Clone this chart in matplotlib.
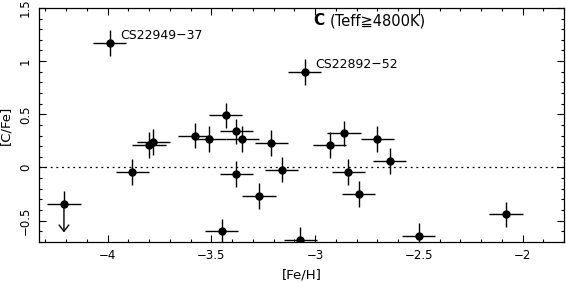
import numpy as np
import matplotlib.pyplot as plt
from matplotlib.ticker import MultipleLocator, FuncFormatter

plt.rcParams['font.family'] = ['DejaVu Sans']

# measured stars
feh = [-3.99, -3.05, -3.88, -3.80, -3.78, -3.45, -3.38, -3.27, -3.21, -3.16,
       -3.58, -3.51, -3.43, -3.38, -3.35, -2.86, -2.70, -2.93, -2.64, -2.84,
       -2.79, -3.07, -2.50, -2.08]
cfe = [1.17, 0.90, -0.04, 0.21, 0.24, -0.60, -0.06, -0.27, 0.23, -0.02,
       0.30, 0.27, 0.49, 0.34, 0.27, 0.32, 0.27, 0.21, 0.06, -0.04,
       -0.25, -0.68, -0.64, -0.44]
xerr = 0.08
yerr = 0.12

# upper limit star
lim_feh = -4.21
lim_cfe = -0.34
lim_arrow = -0.61

names = ['CS22949-37', 'CS22892-52']
name_x = [-3.94, -3.0]
name_y = [1.24, 0.97]

fig = plt.figure(figsize=(5.66, 2.83), dpi=100)
ax = fig.add_axes([0.069, 0.145, 0.9275, 0.827])

ax.axhline(0, color='black', ls=(0, (1.5, 3)), lw=0.9)
ax.errorbar(feh, cfe, xerr=xerr, yerr=yerr, fmt='o', color='black', ms=5,
            elinewidth=1.0, capsize=0)
ax.errorbar([lim_feh], [lim_cfe], xerr=xerr, yerr=[[0], [yerr]], fmt='o',
            color='black', ms=5, elinewidth=1.0, capsize=0)
ax.annotate('', xy=(lim_feh, lim_arrow), xytext=(lim_feh, lim_cfe),
            arrowprops=dict(arrowstyle='->,head_length=0.45,head_width=0.35',
                            color='black', lw=1.0, shrinkA=0, shrinkB=0))

for n, x, y in zip(names, name_x, name_y):
    ax.text(x, y, n.replace('-', '\u2212'), fontsize=9, va='center', ha='left')

ax.text(-3.01, 1.38, 'C', fontsize=11, fontweight='bold', va='center', ha='left')
ax.text(-2.93, 1.38, '(Teff\u22674800K)', fontsize=10.5, va='center', ha='left')

ax.set_xlim(-4.33, -1.8)
ax.set_ylim(-0.7, 1.5)
fmt = FuncFormatter(lambda v, p: ('%g' % round(v, 2)).replace('-', '\u2212'))
ax.xaxis.set_major_locator(MultipleLocator(0.5))
ax.xaxis.set_minor_locator(MultipleLocator(0.1))
ax.yaxis.set_major_locator(MultipleLocator(0.5))
ax.yaxis.set_minor_locator(MultipleLocator(0.1))
ax.xaxis.set_major_formatter(fmt)
ax.yaxis.set_major_formatter(fmt)
ax.tick_params(which='both', direction='in', top=True, right=True, labelsize=8.5)
ax.tick_params(which='major', length=5, width=0.8, pad=5)
ax.tick_params(which='minor', length=2.5, width=0.8)
for lab in ax.get_yticklabels():
    lab.set_rotation(90)
    lab.set_va('center')
ax.set_xlabel('[Fe/H]', fontsize=9.5, labelpad=5)
ax.set_ylabel('[C/Fe]', fontsize=9.5, labelpad=5)
for s in ax.spines.values():
    s.set_linewidth(0.9)

fig.savefig('out.png', dpi=100)
